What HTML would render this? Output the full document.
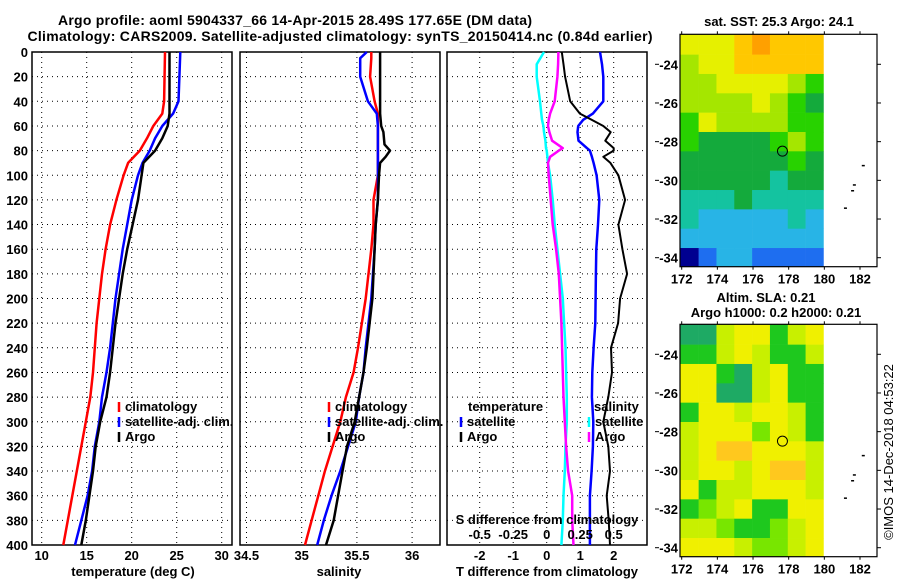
<!DOCTYPE html>
<html><head><meta charset="utf-8"><style>
body{margin:0;background:#fff;width:900px;height:580px;overflow:hidden}
svg{display:block;font-family:"Liberation Sans",sans-serif;font-weight:bold}
</style></head><body>
<svg id="c" width="900" height="580" viewBox="0 0 900 580">
<text x="295" y="25" font-size="14" text-anchor="middle" textLength="474">Argo profile: aoml 5904337_66 14-Apr-2015 28.49S 177.65E (DM data)</text>
<text x="340" y="41" font-size="14" text-anchor="middle" textLength="625">Climatology: CARS2009. Satellite-adjusted climatology: synTS_20150414.nc (0.84d earlier)</text>
<text x="779" y="26" font-size="13" text-anchor="middle">sat. SST: 25.3 Argo: 24.1</text>
<text x="766" y="302" font-size="13" text-anchor="middle">Altim. SLA: 0.21</text>
<text x="776" y="317" font-size="13" text-anchor="middle">Argo h1000: 0.2 h2000: 0.21</text>
<text transform="translate(893,452) rotate(-90)" font-size="13" font-weight="normal" text-anchor="middle">©IMOS 14-Dec-2018 04:53:22</text>
<g id="plots"></g>
</svg>
<script>
// ---- data ----
const depthTicks=[0,20,40,60,80,100,120,140,160,180,200,220,240,260,280,300,320,340,360,380,400];
const tempTicks=[10,15,20,25,30];
const salTicks=[34.5,35,35.5,36];
const tdiffTicks=[-2,-1,0,1,2];
const sdiffTicks=[-0.5,-0.25,0,0.25,0.5];
const depthT=[0,40,50,60,70,80,90,100,120,140,160,180,200,220,240,260,280,300,320,340,360,380,400];
const climT=[23.7,23.6,23.4,22.4,21.7,20.9,19.6,19.1,18.3,17.6,17.1,16.7,16.4,16.1,15.9,15.7,15.4,14.9,14.4,13.9,13.4,12.9,12.4];
const satT=[25.4,25.2,24.6,23.4,22.6,22.0,21.2,20.7,20.0,19.5,19.0,18.6,18.2,17.9,17.6,17.2,16.7,16.4,15.9,15.6,15.1,14.4,13.7];
const argoT=[24.2,24.2,24.2,24.0,23.4,22.6,21.3,21.1,20.7,20.1,19.5,19.0,18.6,18.2,17.9,17.6,17.2,16.5,16.0,15.7,15.3,14.9,14.4];
const depthS=[0,5,20,40,50,60,65,75,80,85,90,100,120,140,160,200,240,260,280,300,320,340,360,380,400];
const climS=[35.63,35.63,35.62,35.66,35.69,35.69,35.69,35.69,35.69,35.69,35.69,35.69,35.65,35.65,35.63,35.58,35.51,35.47,35.40,35.35,35.28,35.21,35.15,35.09,35.03];
const satS=[35.59,35.53,35.53,35.60,35.68,35.69,35.69,35.69,35.69,35.69,35.69,35.69,35.69,35.67,35.66,35.63,35.58,35.56,35.52,35.49,35.42,35.35,35.27,35.20,35.14];
const argoS=[35.71,35.71,35.71,35.71,35.71,35.72,35.74,35.75,35.80,35.76,35.71,35.70,35.69,35.67,35.66,35.64,35.59,35.56,35.52,35.48,35.41,35.37,35.33,35.29,35.22];
const depthD=[0,10,20,40,50,55,60,65,72,78,80,85,90,100,120,140,160,180,200,220,240,260,280,300,320,340,360,380,400];
const satSdiff=[-0.02,-0.075,-0.075,-0.05,-0.04,-0.035,-0.025,-0.02,-0.01,-0.005,0,0.005,0.01,0.025,0.045,0.06,0.08,0.1,0.12,0.13,0.14,0.145,0.15,0.15,0.14,0.135,0.125,0.12,0.11];
const argoSdiff=[0.087,0.085,0.08,0.06,0.025,0.015,0.01,0.02,0.04,0.12,0.09,0.025,0.01,0.015,0.03,0.045,0.07,0.09,0.1,0.11,0.115,0.12,0.125,0.135,0.145,0.16,0.19,0.19,0.2];
const satTdiff=[1.59,1.65,1.69,1.69,1.38,1.09,0.94,0.92,0.95,1.2,1.29,1.35,1.4,1.49,1.57,1.53,1.48,1.47,1.46,1.45,1.4,1.36,1.35,1.39,1.38,1.34,1.29,1.29,1.29];
const argoTdiff=[0.45,0.5,0.55,0.7,0.99,1.34,1.69,1.91,1.75,2.0,2.0,1.69,1.9,2.14,2.34,2.14,2.26,2.4,2.19,2.13,1.92,1.95,1.84,1.69,1.84,1.89,1.79,1.85,1.89];
const lonTicks=[172,174,176,178,180,182];
const latTicks=[-24,-26,-28,-30,-32,-34];
const sstGrid=["77789888","67788888","66777765","66667654","57666655","54444565","44444454","44444344","33343333","32222232","22222222","01221111"];
const slaGrid=["00344134","11343113","44103411","44003411","14434431","34442431","34554443","34434553","41334443","12341144","33211234","44432234"];
const sstPal=['#000090','#1e6ef0','#28b4e6','#14c3a0','#14aa3c','#28d200','#a5e600','#e6f000','#ffc800','#ffa000'];
const slaPal=['#1eaa64','#1ec81e','#78e600','#c8f000','#f0f000','#ffc81e'];
const argoLon=177.65, argoLat=-28.49;

const NS='http://www.w3.org/2000/svg';
const root=document.getElementById('plots');
function mk(tag,attrs,parent){const e=document.createElementNS(NS,tag);for(const k in attrs)e.setAttribute(k,attrs[k]);(parent||root).appendChild(e);return e;}
const Y0=52,Y1=545;
const FS=13;
const yD=p=>Y0+p*(Y1-Y0)/400;

function panel(name,x0,x1,xs,ticks,tickFmt,labelY){
  const g=mk('g',{});
  
  
  depthTicks.forEach(d=>{if(d>0&&d<400)mk('line',{x1:x0,x2:x1,y1:yD(d),y2:yD(d),stroke:'#000','stroke-dasharray':'1 4','stroke-width':1},g);});
  ticks.forEach(t=>{const x=xs(t);if(x>x0+2&&x<x1-2)mk('line',{x1:x,x2:x,y1:Y0,y2:Y1,stroke:'#000','stroke-dasharray':'1 4','stroke-width':1},g);});
  mk('rect',{x:x0,y:Y0,width:x1-x0,height:Y1-Y0,fill:'none',stroke:'#000','stroke-width':1.5},g);
  if(labelY!==null){ticks.forEach(t=>{const l=mk('text',{x:xs(t),y:labelY,'font-size':FS,'text-anchor':'middle'},g);l.textContent=tickFmt(t);
    
    });}
  return g;
}
function series(g,name,xs,vals,depths,color,w){
  const pts=vals.map((v,i)=>xs(v).toFixed(1)+','+yD(depths[i]).toFixed(1)).join(' ');
  const p=mk('polyline',{points:pts,fill:'none',stroke:color,'stroke-width':w,'stroke-linejoin':'round'},g);
  
  
}
function legend(g,x,y,items){
  items.forEach((it,i)=>{
    mk('line',{x1:x,x2:x,y1:y+i*15-9,y2:y+i*15+1,stroke:it[1],'stroke-width':2.5},g);
    const t=mk('text',{x:x+6,y:y+i*15,'font-size':FS},g);t.textContent=it[0];
    
    
  });
}
depthTicks.forEach(d=>{const t=mk('text',{x:28,y:yD(d)+5,'font-size':FS,'text-anchor':'end'});t.textContent=d;
  
  });

const xT=v=>41.7+(v-10)*9;
const g1=panel('temperature-panel',32,232,xT,tempTicks,t=>t,560);
series(g1,'climatology-temp-line',xT,climT,depthT,'#f00',2.5);
series(g1,'satellite-temp-line',xT,satT,depthT,'#00f',2.5);
series(g1,'argo-temp-line',xT,argoT,depthT,'#000',2.5);
legend(g1,119,411,[['climatology','#f00'],['satellite-adj. clim.','#00f'],['Argo','#000']]);
let t=mk('text',{x:133,y:576,'font-size':FS,'text-anchor':'middle'},g1);t.textContent='temperature (deg C)';


const xS=v=>301.7+(v-35)*110.4;
const g2=panel('salinity-panel',240,440,xS,salTicks,t=>t,560);
series(g2,'climatology-sal-line',xS,climS,depthS,'#f00',2.5);
series(g2,'satellite-sal-line',xS,satS,depthS,'#00f',2.5);
series(g2,'argo-sal-line',xS,argoS,depthS,'#000',2.5);
legend(g2,329,411,[['climatology','#f00'],['satellite-adj. clim.','#00f'],['Argo','#000']]);
t=mk('text',{x:339,y:576,'font-size':FS,'text-anchor':'middle'},g2);t.textContent='salinity';


const xDT=v=>546.7+v*33.5;
const xDS=v=>546.7+v*134;
const g3=panel('difference-panel',447,647,xDT,tdiffTicks,t=>t,560);
series(g3,'satellite-sal-diff-line',xDS,satSdiff,depthD,'#0ff',2.5);
series(g3,'argo-sal-diff-line',xDS,argoSdiff,depthD,'#f0f',2.5);
series(g3,'satellite-temp-diff-line',xDT,satTdiff,depthD,'#00f',2.5);
series(g3,'argo-temp-diff-line',xDT,argoTdiff,depthD,'#000',2);
t=mk('text',{x:468,y:411,'font-size':FS},g3);t.textContent='temperature';

legend(g3,461,426,[['satellite','#00f'],['Argo','#000']]);
t=mk('text',{x:594,y:411,'font-size':FS},g3);t.textContent='salinity';

legend(g3,589,426,[['satellite','#0ff'],['Argo','#f0f']]);
t=mk('text',{x:547,y:524,'font-size':FS,'text-anchor':'middle'},g3);t.textContent='S difference from climatology';

sdiffTicks.forEach(v=>{const l=mk('text',{x:xDS(v),y:539,'font-size':FS,'text-anchor':'middle'},g3);l.textContent=v;
  
  });
t=mk('text',{x:547,y:576,'font-size':FS,'text-anchor':'middle'},g3);t.textContent='T difference from climatology';


function map(name,top,grid,pal){
  const xL=v=>681.7+(v-172)*17.83;
  const yL=v=>top+30+(-24-v)*19.34;
  const g=mk('g',{});
  
  
  const latTop=-22.45;
  grid.forEach((row,r)=>{
    [...row].forEach((c,k)=>{
      const la0=(r===0)?latTop:(-22.5-r), la1=-23.5-r;
      const y0=yL(la0), y1=Math.min(yL(la1),top+232.4);
      const xa=(k===0)?680:xL(172+k)-0.9, xb=xL(173+k)-0.9;
      const cell=mk('rect',{x:xa,y:y0,width:xb-xa+0.3,height:y1-y0+0.3,fill:pal[+c]},g);
      
      
    });
  });
  mk('rect',{x:680,y:top,width:197,height:232.4,fill:'none',stroke:'#000','stroke-width':1.2},g);
  lonTicks.forEach(v=>{const x=xL(v);
    mk('line',{x1:x,x2:x,y1:top,y2:top-3,stroke:'#000'},g);
    mk('line',{x1:x,x2:x,y1:top+232.4,y2:top+235.4,stroke:'#000'},g);
    const l=mk('text',{x:x,y:top+249,'font-size':FS,'text-anchor':'middle'},g);l.textContent=v;
    
    });
  latTicks.forEach(v=>{const y=yL(v);
    mk('line',{x1:655,x2:659,y1:y,y2:y,stroke:'#000'},g);
    mk('line',{x1:877,x2:881,y1:y,y2:y,stroke:'#000'},g);
    const l=mk('text',{x:678,y:y+5,'font-size':FS,'text-anchor':'end'},g);l.textContent=v;
    
    });
  [[182.1,-29.2],[181.6,-30.2],[181.5,-30.5],[181.1,-31.4]].forEach(p=>{
    mk('rect',{x:xL(p[0]),y:yL(p[1]),width:3,height:1.5,fill:'#000'},g);});
  const c=mk('circle',{cx:xL(argoLon),cy:yL(argoLat),r:5,fill:'none',stroke:'#000','stroke-width':1},g);
  
  
}
map('sst-map',34.3,sstGrid,sstPal);
map('sla-map',324.3,slaGrid,slaPal);
</script>
</body></html>
